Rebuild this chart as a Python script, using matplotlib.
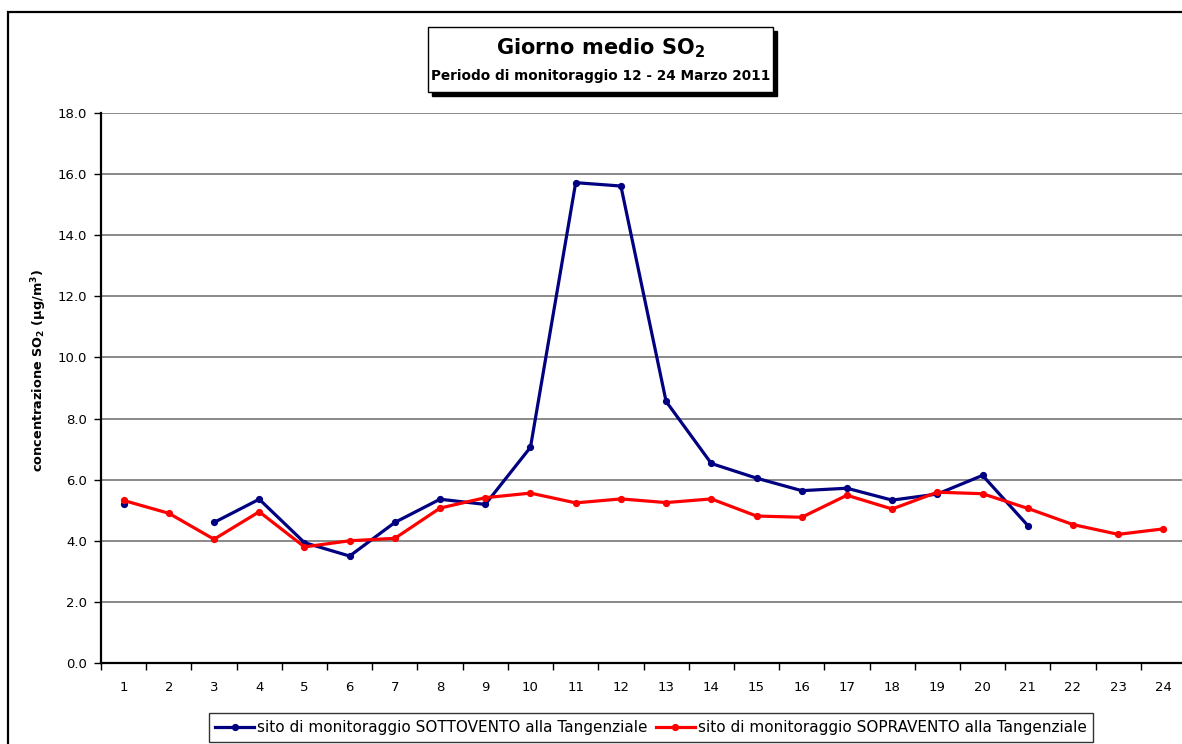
import numpy as np
import matplotlib
matplotlib.use("Agg")
import matplotlib.pyplot as plt
from matplotlib.patches import Rectangle

plt.rcParams['font.family'] = ['DejaVu Sans']
plt.rcParams['mathtext.fontset'] = 'dejavusans'

giorni = np.arange(1, 25)
# giorno medio SO2 (ug/m3), sottovento: manca il dato del giorno 2 e dal 22 in poi
sottovento = [5.20, np.nan, 4.60, 5.36, 3.94, 3.50, 4.60, 5.36, 5.19, 7.06,
              15.72, 15.61, 8.56, 6.53, 6.05, 5.64, 5.72, 5.33, 5.53, 6.14,
              4.50, np.nan, np.nan, np.nan]
sopravento = [5.32, 4.90, 4.05, 4.95, 3.80, 4.00, 4.08, 5.07, 5.41, 5.56,
              5.24, 5.37, 5.25, 5.37, 4.81, 4.77, 5.49, 5.04, 5.59, 5.54,
              5.06, 4.53, 4.21, 4.39]
lbl_sotto = "sito di monitoraggio SOTTOVENTO alla Tangenziale"
lbl_sopra = "sito di monitoraggio SOPRAVENTO alla Tangenziale"

W, H = 1182, 744
fig = plt.figure(figsize=(W / 100, H / 100), dpi=100)
fig.patch.set_facecolor('white')

# cornice esterna del grafico
fig.add_artist(Rectangle((8 / W, -0.2), 1.3, (H - 12) / H + 0.2,
                         transform=fig.transFigure, fill=False,
                         edgecolor='black', linewidth=1.6, clip_on=False))

ax = fig.add_axes([101 / W, (H - 663) / H, (1186 - 101) / W, (663 - 113) / H])
ax.plot(giorni, sottovento, color='#000080', lw=2.3, marker='o', ms=4.2,
        label=lbl_sotto)
ax.plot(giorni, sopravento, color='#FF0000', lw=2.3, marker='o', ms=4.2,
        label=lbl_sopra)

ax.set_xlim(0.5, 24.5)
ax.set_ylim(0, 18)
yt = np.arange(0, 18.1, 2)
ax.set_yticks(yt)
ax.set_yticklabels([f"{v:.1f}" for v in yt], fontsize=9.5)
ax.set_xticks(giorni)
ax.set_xticklabels([str(g) for g in giorni], fontsize=9.5)
ax.set_xticks(np.arange(0.5, 24.6, 1), minor=True)
ax.tick_params(axis='x', which='major', length=0, pad=13)
ax.tick_params(axis='x', which='minor', length=5, width=1, direction='out')
ax.tick_params(axis='y', length=5, width=1, direction='out', pad=5)
ax.yaxis.grid(True, color='#808080', lw=1.3)
ax.set_axisbelow(True)
for s in ('top', 'right'):
    ax.spines[s].set_visible(False)
for s in ('left', 'bottom'):
    ax.spines[s].set_linewidth(1.6)
ax.set_ylabel(r"concentrazione SO$_\mathbf{2}$ ($\mathbf{\mu}$g/m$^\mathbf{3}$)",
              fontsize=9.3, fontweight='bold')
ax.yaxis.set_label_coords((49 - 101) / 1085, (663 - 370) / 550)

# riquadro del titolo con ombra
bx0, bx1, by0, by1 = 428, 773, 27, 92
fig.add_artist(Rectangle(((bx0 + 4) / W, (H - by1 - 4) / H), (bx1 - bx0) / W,
                         (by1 - by0) / H, transform=fig.transFigure,
                         facecolor='black', edgecolor='black'))
fig.add_artist(Rectangle((bx0 / W, (H - by1) / H), (bx1 - bx0) / W,
                         (by1 - by0) / H, transform=fig.transFigure,
                         facecolor='white', edgecolor='black', lw=1.0))
cx = (bx0 + bx1) / 2 / W
fig.text(cx, (H - 48) / H, r"Giorno medio SO$_\mathbf{2}$", ha='center',
         va='center', fontsize=15, fontweight='bold')
fig.text(cx, (H - 76) / H, "Periodo di monitoraggio 12 - 24 Marzo 2011",
         ha='center', va='center', fontsize=9.8, fontweight='bold')

leg = fig.legend(loc='upper center', bbox_to_anchor=(651 / W, (H - 713) / H),
                 ncol=2, fontsize=11, frameon=True, fancybox=False,
                 edgecolor='black', handlelength=2.5, handletextpad=0.2,
                 columnspacing=0.6, borderpad=0.45, borderaxespad=0)
leg.get_frame().set_linewidth(1.0)

fig.savefig("out.png", dpi=100)
